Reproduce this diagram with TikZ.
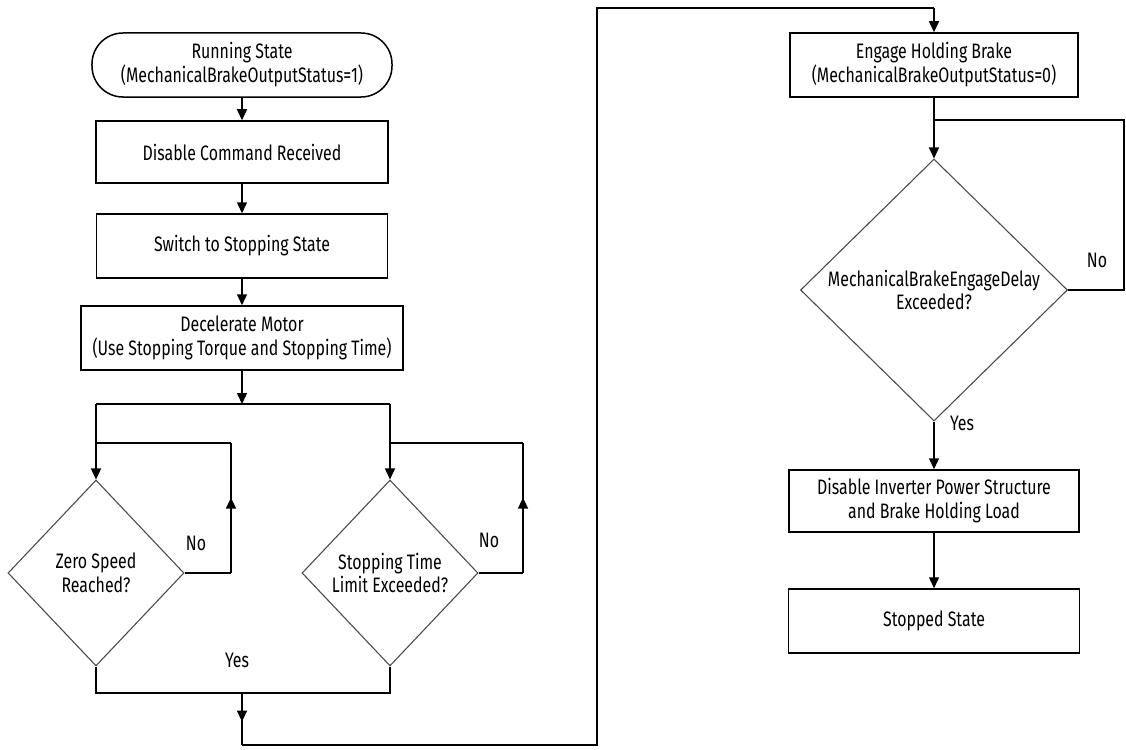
\documentclass[tikz,border=0pt]{standalone}
\usepackage{fontspec}
\setmainfont{Fira Sans}[FakeStretch=0.76]
\usetikzlibrary{shapes.geometric,arrows.meta,decorations.markings}

\tikzset{
  box/.style={draw, line width=1.5bp, align=center, inner sep=0pt,
    minimum width=290bp, minimum height=64bp},
  decision/.style={diamond, draw=black!70, line width=1.1bp, align=center, inner sep=0pt},
  flow/.style={line width=1.5bp},
  tip/.style={-{Triangle[length=11bp,width=10bp]}},
  midtip/.style={postaction={decorate},
    decoration={markings, mark=at position #1 with {\arrow{Triangle[length=11bp,width=10bp]}}}},
  lbl/.style={inner sep=1pt}
}

\begin{document}
\begin{tikzpicture}[x=1bp, y=-1bp, font=\fontsize{21}{24}\selectfont]

  \useasboundingbox (0,0) rectangle (1126,750);

  % Left column
  \node[box, rounded corners=31bp, minimum width=300bp] (run) at (242,65)
    {Running State\\(MechanicalBrakeOutputStatus=1)};
  \node[box, minimum width=292bp, minimum height=62bp] (cmd) at (242,152) {Disable Command Received};
  \node[box, minimum width=291bp] (swi) at (242,246) {Switch to Stopping State};
  \node[box, minimum width=322bp] (dec) at (242,338)
    {Decelerate Motor\\(Use Stopping Torque and Stopping Time)};

  % Decisions
  \node[decision, minimum width=176bp, minimum height=186bp] (zs) at (96,573) {Zero Speed\\Reached?};
  \node[decision, minimum width=176bp, minimum height=186bp] (st) at (390,573) {Stopping Time\\Limit Exceeded?};

  % Right column
  \node[box, minimum width=288bp] (eng) at (934,65)
    {Engage Holding Brake\\(MechanicalBrakeOutputStatus=0)};
  \node[decision, minimum width=267bp, minimum height=262bp] (dly) at (934,290)
    {MechanicalBrakeEngageDelay\\Exceeded?};
  \node[box, minimum height=62bp] (inv) at (934,501)
    {Disable Inverter Power Structure\\and Brake Holding Load};
  \node[box, minimum width=291bp] (stp) at (934,621) {Stopped State};

  % Bends
  \coordinate (split) at (242,404);
  \coordinate (lft) at (96,404);
  \coordinate (rgt) at (390,404);
  \coordinate (zsr) at (231,573);
  \coordinate (zsu) at (231,443);
  \coordinate (zsl) at (96,443);
  \coordinate (str) at (523,573);
  \coordinate (stu) at (523,443);
  \coordinate (stl) at (390,443);
  \coordinate (zsb) at (96,693);
  \coordinate (stb) at (390,693);
  \coordinate (join) at (242,693);
  \coordinate (low) at (242,745);
  \coordinate (lowr) at (597,745);
  \coordinate (topl) at (597,8);
  \coordinate (topr) at (934,8);
  \coordinate (engj) at (934,120);
  \coordinate (dlyr) at (1124,290);
  \coordinate (dlyu) at (1124,120);

  % Left flow
  \draw[flow, tip] (run) -- (cmd);
  \draw[flow, tip] (cmd) -- (swi);
  \draw[flow, tip] (swi) -- (dec);
  \draw[flow, tip] (dec) -- (split);
  \draw[flow] (lft) -- (rgt);
  \draw[flow, tip] (lft) -- (zs.north);
  \draw[flow, tip] (rgt) -- (st.north);

  % No loops
  \draw[flow] (zs.east) -- (zsr);
  \draw[flow, midtip=0.58] (zsr) -- (zsu);
  \draw[flow] (zsu) -- (zsl);
  \draw[flow] (st.east) -- (str);
  \draw[flow, midtip=0.58] (str) -- (stu);
  \draw[flow] (stu) -- (stl);
  \node[lbl] (no1) at (196,543) {No};
  \node[lbl] (no2) at (489,540) {No};

  % Yes merge
  \draw[flow] (zs.south) -- (zsb) -- (stb) -- (st.south);
  \node[lbl] (yes1) at (237,660) {Yes};
  \draw[flow, midtip=0.55] (join) -- (low);
  \draw[flow] (low) -- (lowr) -- (topl) -- (topr);
  \draw[flow, tip] (topr) -- (eng.north);

  % Right flow
  \draw[flow, tip] (eng) -- (dly.north);
  \draw[flow] (dly.east) -- (dlyr) -- (dlyu) -- (engj);
  \node[lbl] (no3) at (1097,260) {No};
  \draw[flow, tip] (dly.south) -- (inv);
  \node[lbl] (yes2) at (962,423) {Yes};
  \draw[flow, tip] (inv) -- (stp);

\end{tikzpicture}
\end{document}
